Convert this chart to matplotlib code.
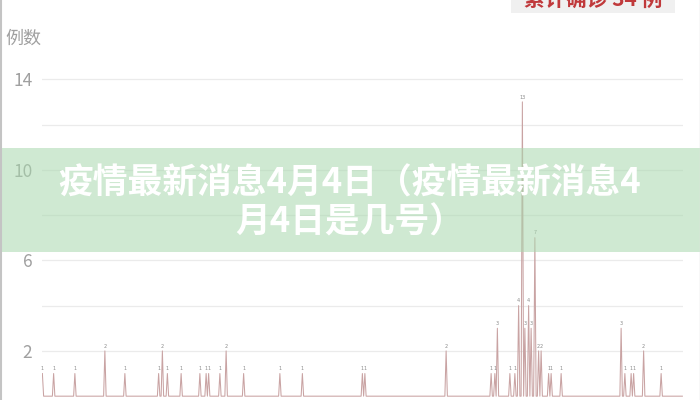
import matplotlib
matplotlib.use("Agg")
import matplotlib.pyplot as plt
import numpy as np
from matplotlib.patches import Rectangle
from matplotlib.lines import Line2D

plt.rcParams['font.family'] = ['Noto Sans CJK SC', 'DejaVu Sans']

# daily new cases: only the non-zero days are listed, every other day is 0
n_days = 513
peak_days = [0, 9, 26, 50, 66, 93, 96, 100, 111, 126, 131, 133, 142, 147, 161,
             190, 208, 256, 258, 323, 359, 362, 364, 374, 378, 381, 384, 386,
             389, 391, 394, 397, 399, 405, 407, 415, 463, 466, 471, 473, 481, 495]
peak_values = [1, 1, 1, 2, 1, 1, 2, 1, 1, 1, 1, 1, 1, 2, 1,
               1, 1, 1, 1, 2, 1, 1, 3, 1, 1, 4, 13, 3,
               4, 3, 7, 2, 2, 1, 1, 1, 3, 1, 1, 1, 2, 1]

y_label = "例数"
title_lines = ["疫情最新消息4月4日（疫情最新消息4", "月4日是几号）"]
badge_text = "累计确诊 34 例"

days = np.arange(n_days)
cases = np.zeros(n_days)
cases[peak_days] = peak_values

fig = plt.figure(figsize=(7, 4), dpi=100)
ax = fig.add_axes([42 / 700, 0, 641 / 700, 1.0])

ax.plot(days, cases, color="#c9a3a3", lw=0.75)
for d, v in zip(peak_days, peak_values):
    ax.text(d, v + 0.1, str(v), fontsize=3.5, color="#8a8a8a",
            ha="center", va="bottom", family=["DejaVu Sans"])

ax.set_xlim(-0.3, 512.5)
ax.set_ylim(-0.169, 17.5)
ax.set_xticks([])
ax.set_yticks([2, 6, 10, 14])
ax.set_yticks([4, 8, 12], minor=True)
ax.grid(axis="y", which="both", color="#ebebeb", lw=0.9)
ax.set_axisbelow(True)
ax.tick_params(axis="y", which="both", length=0, pad=7, labelsize=12.5,
               labelcolor="#a0a0a0")
for s in ax.spines.values():
    s.set_visible(False)

fig.text(5 / 700, 1 - 39 / 400, y_label, fontsize=13, color="#a0a0a0",
         ha="left", va="center")

# badge at top right (cut by the image edge)
fig.add_artist(Rectangle((511 / 700, 1 - 13 / 400), 164 / 700, 0.06,
                         transform=fig.transFigure, facecolor="#f0f0f0",
                         edgecolor="none", zorder=4))
fig.text(593 / 700, 1 - 7 / 400, badge_text, fontsize=15, color="#c0393b",
         fontweight="bold", ha="center", va="baseline", zorder=5)

# green banner with title
fig.add_artist(Rectangle((0, 1 - 252 / 400), 1, 104 / 400,
                         transform=fig.transFigure, facecolor="#a8d8ad",
                         alpha=0.55, edgecolor="none", zorder=5))
fig.text(0.5, 1 - 183 / 400, title_lines[0], fontsize=25, color="white",
         fontweight="heavy", ha="center", va="center", zorder=6)
fig.text(0.5, 1 - 222 / 400, title_lines[1], fontsize=25, color="white",
         fontweight="heavy", ha="center", va="center", zorder=6)

# frame lines at the image sides
fig.add_artist(Line2D([0.5 / 700, 0.5 / 700], [0, 1], transform=fig.transFigure,
                      color="#c4c4c4", lw=1.5, zorder=7))
fig.add_artist(Line2D([699.5 / 700, 699.5 / 700], [0, 1], transform=fig.transFigure,
                      color="#e0e0e0", lw=1.0, zorder=7))

fig.savefig("out.png", dpi=100)
